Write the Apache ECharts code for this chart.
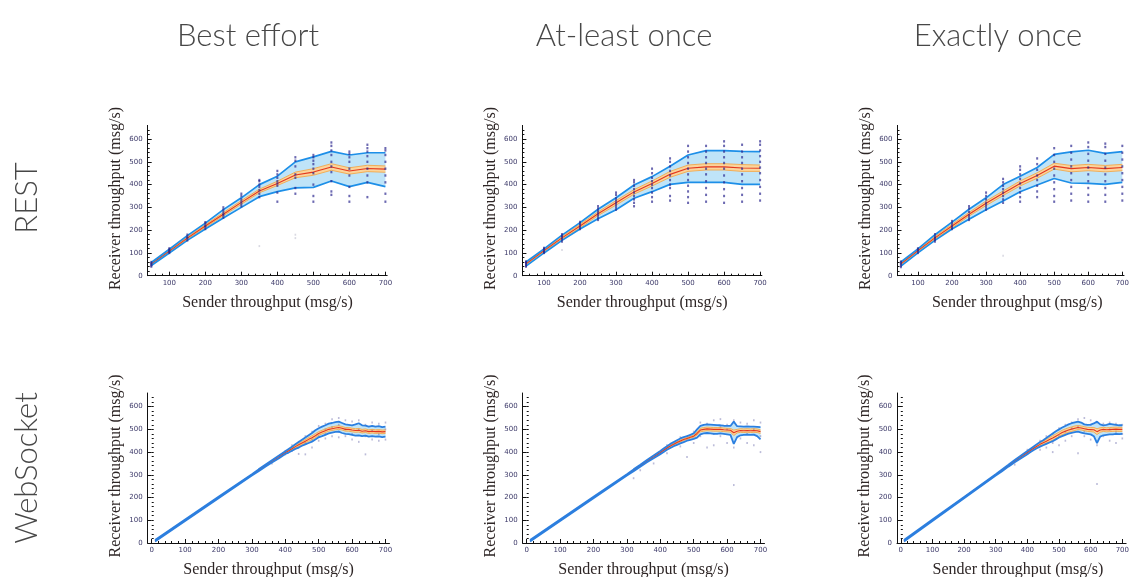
<!DOCTYPE html>
<html>
<head>
<meta charset="utf-8">
<script src="https://cdn.jsdelivr.net/npm/echarts@6/dist/echarts.min.js"></script>
<style>
  html, body { margin: 0; padding: 0; background: #fff; }
  #main { width: 1132px; height: 577px; }
</style>
</head>
<body>
<div id="main"></div>
<script>
// ---------- data ----------
var colTitles = ['Best effort', 'At-least once', 'Exactly once'];
var rowTitles = ['REST', 'WebSocket'];
var xName = 'Sender throughput (msg/s)';
var yName = 'Receiver throughput (msg/s)';

var restXTicks = [100, 200, 300, 400, 500, 600, 700];
var wsXTicks = [0, 100, 200, 300, 400, 500, 600, 700];
var yTicks = [0, 100, 200, 300, 400, 500, 600];

// REST: one measurement column every 50 msg/s
var restX = [50, 100, 150, 200, 250, 300, 350, 400, 450, 500, 550, 600, 650, 700];

var restBestMean = [52, 108, 165, 218, 270, 322, 372, 405, 442, 455, 477, 460, 471, 468];
var restBestHi   = [58, 116, 176, 231, 290, 342, 400, 437, 500, 522, 546, 530, 540, 540];
var restBestLo   = [45, 100, 155, 205, 253, 300, 347, 369, 386, 388, 416, 391, 410, 391];
var restBestCiHi = [56, 112, 170, 224, 277, 330, 380, 415, 455, 470, 492, 474, 485, 482];
var restBestCiLo = [48, 104, 160, 212, 263, 314, 364, 396, 430, 441, 463, 446, 457, 454];
var restBestDots = [
  [50, [40, 45, 50, 55, 60]], [100, [100, 105, 110, 115, 120]], [150, [155, 165, 170, 180]],
  [200, [205, 215, 220, 230, 235]], [250, [255, 265, 270, 280, 290, 300]],
  [300, [305, 315, 325, 335, 350, 360]], [350, [345, 360, 375, 390, 400, 415, 420]],
  [400, [325, 365, 395, 405, 415, 430, 445, 460]], [450, [360, 385, 430, 445, 480, 505, 520]],
  [500, [325, 350, 400, 450, 470, 490, 505, 520, 530]], [550, [355, 370, 415, 455, 480, 500, 530, 550, 570, 585]],
  [600, [325, 350, 390, 440, 470, 500, 520, 535, 545]], [650, [345, 410, 440, 470, 500, 525, 545, 560, 575]],
  [700, [325, 360, 410, 440, 470, 500, 530, 550, 560]]
];
var restBestFaint = [[350, 130], [450, 165], [450, 180]];

var restLeastMean = [52, 110, 166, 218, 272, 320, 368, 405, 445, 472, 478, 478, 473, 472];
var restLeastHi   = [60, 118, 178, 233, 292, 342, 398, 435, 481, 530, 549, 549, 546, 545];
var restLeastLo   = [42, 100, 155, 205, 250, 290, 340, 369, 401, 410, 410, 410, 401, 401];
var restLeastCiHi = [56, 114, 172, 226, 280, 330, 378, 416, 458, 486, 492, 492, 488, 486];
var restLeastCiLo = [48, 106, 160, 210, 264, 310, 358, 394, 432, 458, 464, 464, 458, 458];
var restLeastDots = [
  [50, [40, 45, 50, 55, 60, 62]], [100, [100, 105, 110, 118, 122]], [150, [150, 160, 168, 175, 182]],
  [200, [205, 212, 220, 228, 236]], [250, [245, 255, 265, 275, 285, 295, 305]],
  [300, [290, 300, 310, 320, 330, 340, 355, 365]], [350, [305, 320, 335, 350, 365, 380, 395, 410, 420]],
  [400, [325, 345, 365, 385, 400, 415, 430, 450, 470]], [450, [330, 350, 385, 400, 420, 440, 460, 480, 500, 515]],
  [500, [320, 345, 370, 395, 420, 445, 470, 495, 520, 545, 570]], [550, [325, 355, 385, 415, 445, 470, 495, 520, 545, 570]],
  [600, [320, 350, 380, 410, 440, 470, 495, 520, 545, 570, 590]], [650, [325, 355, 385, 415, 445, 470, 495, 520, 545, 575]],
  [700, [330, 360, 390, 420, 450, 475, 500, 525, 550, 575, 590]]
];
var restLeastFaint = [[150, 113]];

var restExactMean = [52, 110, 166, 218, 270, 318, 362, 405, 440, 481, 470, 475, 470, 475];
var restExactHi   = [60, 118, 180, 235, 292, 342, 400, 437, 475, 533, 544, 551, 537, 545];
var restExactLo   = [42, 100, 155, 205, 248, 290, 328, 369, 398, 427, 407, 405, 401, 410];
var restExactCiHi = [56, 114, 172, 226, 278, 328, 372, 416, 452, 494, 484, 489, 484, 489];
var restExactCiLo = [48, 106, 160, 210, 262, 308, 352, 394, 428, 468, 456, 461, 456, 461];
var restExactDots = [
  [50, [38, 45, 52, 58, 62]], [100, [100, 108, 115, 120]], [150, [150, 158, 165, 172, 182]],
  [200, [205, 212, 220, 230, 240]], [250, [245, 255, 265, 280, 295, 305]],
  [300, [290, 300, 310, 320, 335, 350, 365]], [350, [320, 335, 350, 365, 380, 395, 410, 425]],
  [400, [325, 345, 365, 385, 405, 425, 445, 465, 480]], [450, [345, 370, 395, 420, 440, 465, 490, 515]],
  [500, [325, 350, 380, 410, 440, 470, 500, 530, 560]], [550, [330, 360, 390, 420, 450, 480, 510, 540, 570]],
  [600, [325, 355, 385, 415, 445, 475, 505, 535, 565, 585]], [650, [325, 355, 385, 415, 445, 475, 505, 535, 565, 580]],
  [700, [330, 360, 390, 420, 450, 480, 510, 540, 570]]
];
var restExactFaint = [[350, 88]];

// WebSocket: finer sweep
var wsX = [10, 100, 200, 300, 320, 340, 360, 380,
  400, 410, 420, 430, 440, 450, 460, 470, 480, 490,
  500, 510, 520, 530, 540, 550, 560, 570, 580, 590,
  600, 610, 620, 630, 640, 650, 660, 670, 680, 690, 700];

var wsBestMean = [10, 100, 200, 300, 320, 340, 359, 378,
  398, 406, 415, 424, 432, 440, 448, 456, 463, 472,
  482, 488, 494, 500, 503, 506, 508, 505, 500, 500,
  497, 495, 496, 492, 494, 490, 492, 490, 491, 489, 490];
var wsBestHi = [13, 103, 203, 303, 324, 344, 364, 384,
  404, 414, 424, 434, 444, 454, 464, 474, 484, 496,
  505, 512, 518, 525, 528, 532, 534, 528, 522, 520,
  518, 522, 527, 518, 516, 512, 515, 512, 514, 510, 512];
var wsBestLo = [7, 97, 197, 297, 316, 336, 354, 372,
  392, 398, 406, 414, 420, 428, 434, 440, 446, 455,
  465, 470, 476, 482, 486, 489, 490, 484, 480, 479,
  476, 472, 474, 470, 472, 468, 470, 468, 469, 466, 468];
var wsBestCiHi = [12, 102, 202, 302, 322, 342, 361, 381,
  401, 410, 420, 430, 438, 447, 455, 464, 472, 481,
  490, 496, 502, 508, 511, 514, 516, 513, 508, 508,
  505, 503, 504, 500, 502, 498, 500, 498, 499, 497, 498];
var wsBestCiLo = [8, 98, 198, 298, 318, 338, 357, 375,
  395, 402, 410, 418, 426, 433, 441, 448, 454, 463,
  474, 480, 486, 492, 495, 498, 500, 497, 492, 492,
  489, 487, 488, 484, 486, 482, 484, 482, 483, 481, 482];
var wsBestDots = [
  [360, [350]], [400, [390, 405]], [420, [405, 430]], [440, [392, 445, 420]], [460, [390, 470, 440]],
  [480, [420, 490, 455]], [500, [450, 515, 470]], [520, [460, 525, 500, 480]], [540, [470, 545, 510]],
  [560, [465, 550, 520, 490]], [580, [470, 540, 500]], [600, [455, 535, 480]], [620, [445, 540, 500]],
  [640, [390, 520, 470]], [660, [455, 530, 495]], [680, [450, 525, 480]], [700, [455, 530, 500]]
];

var wsLeastMean = [10, 100, 200, 300, 320, 340, 360, 379,
  398, 408, 418, 427, 435, 442, 449, 455, 460, 465,
  470, 482, 497, 500, 502, 501, 500, 500, 500, 498,
  497, 496, 485, 492, 495, 494, 495, 494, 495, 494, 490];
var wsLeastHi = [13, 103, 203, 303, 324, 344, 365, 385,
  405, 416, 426, 436, 444, 452, 460, 466, 470, 476,
  482, 500, 515, 520, 522, 521, 520, 519, 518, 516,
  515, 515, 534, 514, 513, 512, 513, 512, 512, 511, 510];
var wsLeastLo = [7, 97, 197, 297, 316, 336, 355, 373,
  391, 400, 410, 418, 426, 432, 438, 444, 450, 454,
  458, 464, 478, 482, 484, 482, 480, 480, 482, 480,
  478, 476, 436, 466, 474, 476, 477, 476, 477, 470, 456];
var wsLeastCiHi = [11, 101, 201, 301, 322, 342, 362, 381,
  401, 411, 421, 430, 438, 446, 453, 459, 464, 469,
  475, 489, 505, 508, 510, 509, 508, 508, 508, 506,
  505, 504, 497, 500, 503, 502, 503, 502, 503, 502, 498];
var wsLeastCiLo = [9, 99, 199, 299, 318, 338, 358, 377,
  395, 405, 415, 424, 432, 438, 445, 451, 456, 461,
  465, 475, 489, 492, 494, 493, 492, 492, 492, 490,
  489, 488, 473, 484, 487, 486, 487, 486, 487, 486, 482];
var wsLeastDots = [
  [320, [285]], [340, [320]], [380, [350]], [420, [395, 430]], [460, [425, 465]], [480, [378, 470]],
  [500, [440, 490]], [520, [470, 530]], [540, [420, 525]], [560, [430, 540, 480]], [580, [470, 545, 510]],
  [600, [440, 520, 500]], [620, [255, 420, 540]], [640, [460, 530]], [660, [440, 525, 480]],
  [680, [430, 540, 500]], [700, [400, 530, 470]]
];

var wsExactMean = [10, 100, 200, 300, 320, 340, 360, 379,
  398, 408, 417, 426, 434, 441, 448, 455, 462, 470,
  478, 486, 492, 497, 501, 505, 508, 506, 503, 500,
  499, 498, 490, 497, 500, 498, 499, 500, 501, 500, 500];
var wsExactHi = [13, 103, 203, 303, 324, 344, 365, 385,
  405, 415, 425, 435, 444, 452, 462, 472, 482, 492,
  500, 508, 515, 522, 527, 531, 534, 530, 522, 520,
  521, 526, 534, 522, 518, 520, 524, 522, 520, 518, 518];
var wsExactLo = [7, 97, 197, 297, 316, 336, 355, 373,
  391, 400, 409, 417, 424, 430, 436, 442, 448, 456,
  464, 470, 476, 481, 485, 488, 490, 486, 482, 480,
  478, 470, 440, 468, 474, 476, 478, 478, 480, 479, 480];
var wsExactCiHi = [12, 102, 202, 302, 322, 342, 362, 381,
  401, 411, 421, 431, 440, 448, 456, 464, 472, 480,
  488, 496, 502, 507, 511, 515, 517, 515, 512, 509,
  508, 508, 503, 507, 509, 507, 508, 509, 510, 509, 509];
var wsExactCiLo = [8, 98, 198, 298, 318, 338, 358, 377,
  395, 405, 413, 421, 428, 434, 440, 446, 452, 460,
  468, 476, 482, 487, 491, 495, 499, 497, 494, 491,
  490, 488, 477, 487, 491, 489, 490, 491, 492, 491, 491];
var wsExactDots = [
  [360, [345]], [400, [392, 410]], [440, [410, 450]], [460, [420, 470]], [480, [400, 480, 440]],
  [500, [430, 505, 470]], [520, [450, 520, 490]], [540, [470, 530, 505]], [560, [395, 545, 510]],
  [580, [470, 550, 490]], [600, [455, 540, 520]], [620, [260, 430, 530]], [640, [470, 525]],
  [660, [450, 530, 500]], [680, [440, 525, 490]], [700, [460, 520, 480]]
];

// ---------- layout ----------
var REST_LEFT = [147.7, 522.4, 897.5], REST_W = 239.5, REST_TOP = 125.4, REST_H = 150.3;
var WS_LEFT = [147.7, 522.7, 897], WS_W = 241.8, WS_TOP = 393, WS_H = 150;
var colCenter = [248, 624, 998];

var panels = [
  { row: 0, col: 0, x: restX, mean: restBestMean, hi: restBestHi, lo: restBestLo, ciHi: restBestCiHi, ciLo: restBestCiLo, dots: restBestDots, faint: restBestFaint },
  { row: 0, col: 1, x: restX, mean: restLeastMean, hi: restLeastHi, lo: restLeastLo, ciHi: restLeastCiHi, ciLo: restLeastCiLo, dots: restLeastDots, faint: restLeastFaint },
  { row: 0, col: 2, x: restX, mean: restExactMean, hi: restExactHi, lo: restExactLo, ciHi: restExactCiHi, ciLo: restExactCiLo, dots: restExactDots, faint: restExactFaint },
  { row: 1, col: 0, x: wsX, mean: wsBestMean, hi: wsBestHi, lo: wsBestLo, ciHi: wsBestCiHi, ciLo: wsBestCiLo, dots: wsBestDots, faint: [] },
  { row: 1, col: 1, x: wsX, mean: wsLeastMean, hi: wsLeastHi, lo: wsLeastLo, ciHi: wsLeastCiHi, ciLo: wsLeastCiLo, dots: wsLeastDots, faint: [] },
  { row: 1, col: 2, x: wsX, mean: wsExactMean, hi: wsExactHi, lo: wsExactLo, ciHi: wsExactCiHi, ciLo: wsExactCiLo, dots: wsExactDots, faint: [] }
];

var BLUE = '#1d8fe8', BLUE_FILL = '#bfe4f8', ORANGE = '#f5a23c', ORANGE_FILL = '#fbd49b', RED = '#e3371f';
var LABEL_FONT = 'Liberation Serif';

function minorValues(from, to, step) {
  var out = [];
  for (var v = from; v <= to; v += step) out.push(v);
  return out;
}

function pairs(xs, ys) {
  return xs.map(function (x, i) { return [x, ys[i]]; });
}

function flatDots(cols) {
  var out = [];
  cols.forEach(function (c) { c[1].forEach(function (y) { out.push([c[0], y]); }); });
  return out;
}

function band(gi, xs, lo, hi, color, z) {
  return {
    type: 'custom', xAxisIndex: gi, yAxisIndex: gi, z: z, silent: true, animation: false,
    data: [[xs[0], lo[0]]],
    renderItem: function (params, api) {
      var pts = [];
      for (var i = 0; i < xs.length; i++) pts.push(api.coord([xs[i], hi[i]]));
      for (var j = xs.length - 1; j >= 0; j--) pts.push(api.coord([xs[j], lo[j]]));
      return { type: 'polygon', shape: { points: pts }, style: { fill: color } };
    }
  };
}

function line(gi, xs, ys, color, width, z) {
  return {
    type: 'line', xAxisIndex: gi, yAxisIndex: gi, data: pairs(xs, ys), symbol: 'none',
    lineStyle: { color: color, width: width }, z: z, silent: true, animation: false
  };
}

var grids = [], xAxes = [], yAxes = [], series = [], graphics = [];

panels.forEach(function (p, gi) {
  var rest = p.row === 0;
  var left = rest ? REST_LEFT[p.col] : WS_LEFT[p.col];
  var top = rest ? REST_TOP : WS_TOP;
  var w = rest ? REST_W : WS_W, h = rest ? REST_H : WS_H;
  var xmin = rest ? 40 : -12, xmax = rest ? 705 : 712;
  var xt = rest ? restXTicks : wsXTicks;
  grids.push({ left: left, top: top, width: w, height: h, containLabel: false });

  var axisLine = { show: true, onZero: false, lineStyle: { color: '#111', width: 1 } };
  var lbl = { fontSize: 7, color: '#3b3868', fontFamily: 'DejaVu Sans' };
  xAxes[gi] = {
    type: 'value', gridIndex: gi, position: 'bottom', min: xmin, max: xmax, axisLine: axisLine, splitLine: { show: false },
    axisTick: { show: true, inside: true, length: 4, customValues: xt, lineStyle: { color: '#111' } },
    axisLabel: Object.assign({ customValues: xt, margin: 4 }, lbl)
  };
  yAxes[gi] = {
    type: 'value', gridIndex: gi, position: 'left', min: 0, max: 660, axisLine: axisLine, splitLine: { show: false },
    axisTick: { show: true, inside: true, length: 4, customValues: yTicks, lineStyle: { color: '#111' } },
    axisLabel: Object.assign({ customValues: yTicks, margin: 5 }, lbl)
  };
  // minor ticks on overlay axes, same side as the main ones
  xAxes[6 + gi] = {
    type: 'value', gridIndex: gi, position: 'bottom', min: xmin, max: xmax, axisLine: { show: false }, splitLine: { show: false },
    axisTick: { show: true, inside: true, length: 2, customValues: minorValues(rest ? 60 : 0, 700, 20), lineStyle: { color: '#111' } },
    axisLabel: { show: false }
  };
  yAxes[6 + gi] = {
    type: 'value', gridIndex: gi, position: 'left', min: 0, max: 660, axisLine: { show: false }, splitLine: { show: false },
    axisTick: { show: true, inside: true, length: 2, customValues: minorValues(0, 640, 20), lineStyle: { color: '#111' } },
    axisLabel: { show: false }
  };

  series.push(band(gi, p.x, p.lo, p.hi, BLUE_FILL, 1));
  series.push(band(gi, p.x, p.ciLo, p.ciHi, ORANGE_FILL, 2));
  if (!rest) {
    series.push({
      type: 'scatter', xAxisIndex: gi, yAxisIndex: gi, data: flatDots(p.dots), symbol: 'rect', symbolSize: [1.6, 2],
      itemStyle: { color: 'rgba(70,70,150,0.45)' }, z: 3, silent: true, animation: false
    });
  }
  series.push(line(gi, p.x, p.ciHi, ORANGE, 0.8, 4));
  series.push(line(gi, p.x, p.ciLo, ORANGE, 0.8, 4));
  series.push(line(gi, p.x, p.mean, RED, 1.1, 5));
  // blue envelope on top so the narrow linear part reads as one blue stroke
  series.push(line(gi, p.x, p.hi, rest ? BLUE : '#2b7fe0', rest ? 1.7 : 1.8, 6));
  series.push(line(gi, p.x, p.lo, rest ? BLUE : '#2b7fe0', rest ? 1.7 : 1.8, 6));
  if (rest) {
    series.push({
      type: 'scatter', xAxisIndex: gi, yAxisIndex: gi, data: flatDots(p.dots), symbol: 'rect', symbolSize: [2, 2.4],
      itemStyle: { color: 'rgba(40,35,140,0.85)' }, z: 7, silent: true, animation: false
    });
    series.push({
      type: 'scatter', xAxisIndex: gi, yAxisIndex: gi, data: p.faint, symbol: 'rect', symbolSize: [1.6, 2],
      itemStyle: { color: 'rgba(120,120,150,0.35)' }, z: 7, silent: true, animation: false
    });
  }

  // axis titles
  var xc = left + w / 2;
  graphics.push({
    type: 'text', x: xc, y: top + h + 27,
    style: { text: xName, font: '16px "' + LABEL_FONT + '"', fill: '#2e2626', align: 'center', verticalAlign: 'middle' }
  });
  graphics.push({
    type: 'text', x: left - 32, y: top + h / 2 - 2, rotation: Math.PI / 2,
    style: { text: yName, font: '16px "' + LABEL_FONT + '"', fill: '#2e2626', align: 'center', verticalAlign: 'middle' }
  });
});

colTitles.forEach(function (t, i) {
  graphics.push({
    type: 'text', x: colCenter[i], y: 36,
    style: { text: t, font: '300 31px Lato', fill: '#474747', align: 'center', verticalAlign: 'middle' }
  });
});
var rowCenters = [198, 468];
rowTitles.forEach(function (t, i) {
  graphics.push({
    type: 'text', x: 27, y: rowCenters[i], rotation: Math.PI / 2,
    style: { text: t, font: '300 31px Lato', fill: '#474747', align: 'center', verticalAlign: 'middle' }
  });
});

var chart = echarts.init(document.getElementById('main'), null, { renderer: 'canvas' });
chart.setOption({
  backgroundColor: '#fff',
  animation: false,
  grid: grids,
  xAxis: xAxes,
  yAxis: yAxes,
  series: series,
  graphic: graphics
});
</script>
</body>
</html>
